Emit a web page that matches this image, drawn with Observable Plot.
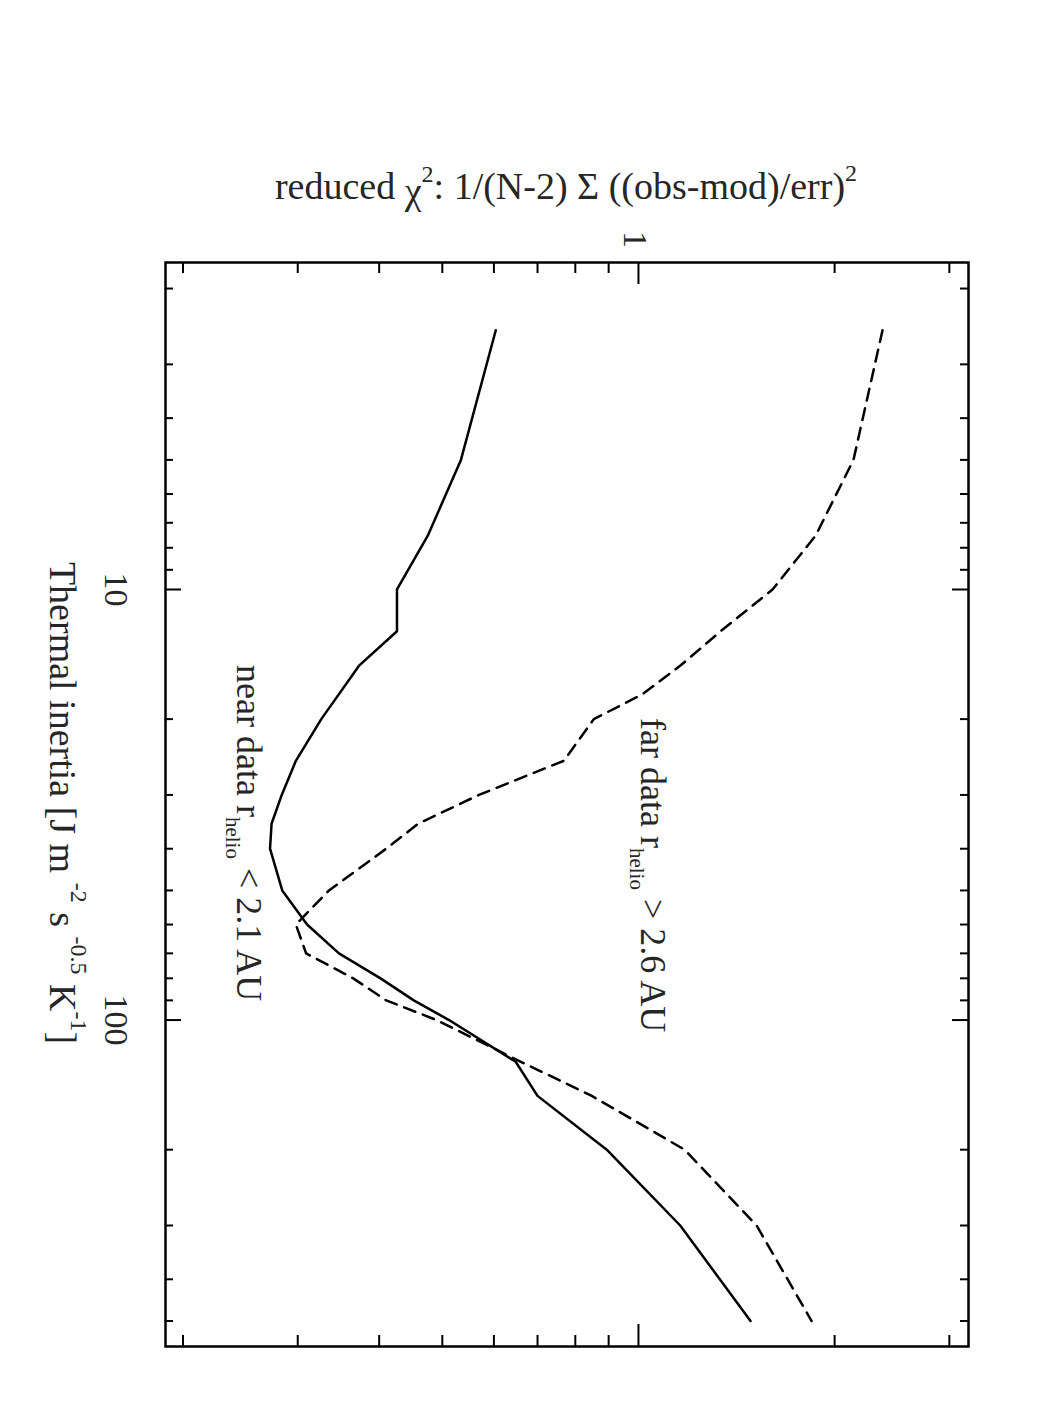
<!DOCTYPE html>
<html><head><meta charset="utf-8">
<script src="https://cdn.jsdelivr.net/npm/d3@7"></script>
<script src="https://cdn.jsdelivr.net/npm/@observablehq/plot@0.6"></script>
<style>body{margin:0;background:#fff} svg{display:block}</style>
</head><body><div id="chart"></div>
<script>
// Thermal inertia grid [J m^-2 s^-0.5 K^-1] and reduced chi^2 values
const inertiaNear = [2.5,5,7.5,10,12.5,15,20,25,30,35,40,50,60,70,80,90,100,125,150,200,300,500];
const chiNear = [0.604,0.534,0.475,0.426,0.426,0.373,0.326,0.298,0.2835,0.2735,0.272,0.284,0.310,0.347,0.402,0.452,0.512,0.648,0.700,0.894,1.159,1.486];
const inertiaFar = [2.5,5,7.5,10,12.5,15,17.5,20,25,30,35,40,50,60,70,80,90,100,125,150,200,300,500];
const chiFar = [2.369,2.138,1.870,1.606,1.337,1.161,1.015,0.854,0.768,0.569,0.459,0.410,0.335,0.298,0.309,0.365,0.410,0.490,0.660,0.848,1.177,1.518,1.844];

const chiMajor = [1];
const chiMinor = [0.2,0.3,0.4,0.5,0.6,0.7,0.8,0.9,2,3];
const inertiaMajor = [10,100];
const inertiaMinor = [2,3,4,5,6,7,8,9,20,30,40,50,60,70,80,90,200,300,400,500];

const near = inertiaNear.map((t,i)=>({ti:t, chi:chiNear[i]}));
const far = inertiaFar.map((t,i)=>({ti:t, chi:chiFar[i]}));

const W = 1050, H = 1425;
const mT = 262, mB = 79, mL = 165, mR = 82;
const PW = W - mL - mR, PH = H - mT - mB;
const font = "Liberation Serif, Times New Roman, serif";
const ink = "#000";
const textInk = "#262626";

const svg = Plot.plot({
  width: W, height: H,
  marginTop: mT, marginBottom: mB, marginLeft: mL, marginRight: mR,
  style: {background: "#fff", fontFamily: font},
  x: {type: "log", domain: [0.188, 3.21], axis: null},
  y: {type: "log", domain: [1.74, 573], reverse: true, axis: null},
  marks: [
    // chi^2 axis ticks (top and bottom, pointing inward)
    Plot.ruleX(chiMinor, {x: d=>d, insetBottom: PH - 11, stroke: ink, strokeWidth: 2}),
    Plot.ruleX(chiMajor, {x: d=>d, insetBottom: PH - 22, stroke: ink, strokeWidth: 2}),
    Plot.ruleX(chiMinor, {x: d=>d, insetTop: PH - 11, stroke: ink, strokeWidth: 2}),
    Plot.ruleX(chiMajor, {x: d=>d, insetTop: PH - 22, stroke: ink, strokeWidth: 2}),
    // thermal inertia axis ticks (left and right, pointing inward)
    Plot.ruleY(inertiaMinor, {y: d=>d, insetRight: PW - 8, stroke: ink, strokeWidth: 2}),
    Plot.ruleY(inertiaMajor, {y: d=>d, insetRight: PW - 16, stroke: ink, strokeWidth: 2}),
    Plot.ruleY(inertiaMinor, {y: d=>d, insetLeft: PW - 8, stroke: ink, strokeWidth: 2}),
    Plot.ruleY(inertiaMajor, {y: d=>d, insetLeft: PW - 16, stroke: ink, strokeWidth: 2}),
    Plot.frame({stroke: ink, strokeWidth: 2.5}),
    // curves
    Plot.line(near, {x: "chi", y: "ti", stroke: ink, strokeWidth: 2.5}),
    Plot.line(far, {x: "chi", y: "ti", stroke: ink, strokeWidth: 2.5, strokeDasharray: "12,8"}),
    // tick labels (rotated, like the page)
    Plot.text(chiMajor, {x: d=>d, text: d=>String(d), frameAnchor: "top", dy: -23, dx: -4, rotate: 90,
      textAnchor: "middle", lineAnchor: "middle", fontSize: 34, fontFamily: font, fill: textInk}),
    Plot.text(inertiaMajor, {y: d=>d, text: d=>String(d), frameAnchor: "left", dx: -50, rotate: 90,
      textAnchor: "middle", lineAnchor: "middle", fontSize: 34, fontFamily: font, fill: textInk})
  ]
});

document.getElementById("chart").appendChild(svg);

const s = d3.select(svg);
function richText(transform, anchor, size, parts) {
  const t = s.append("text")
    .attr("transform", transform)
    .attr("text-anchor", anchor)
    .attr("font-family", font)
    .attr("font-size", size)
    .attr("fill", textInk);
  for (const p of parts) {
    const ts = t.append("tspan").text(p.t);
    if (p.dy) ts.attr("dy", p.dy);
    if (p.dx) ts.attr("dx", p.dx);
    if (p.size) ts.attr("font-size", p.size);
  }
  return t;
}

// top axis title
richText("translate(566,199)", "middle", 38, [
  {t: "reduced "},
  {t: "χ", dy: 5},
  {t: "2", dy: -22, size: 24},
  {t: ": 1/(N-2) Σ ((obs-mod)/err)", dy: 17},
  {t: "2", dy: -18, size: 24}
]);

// left axis title (rotated)
richText("translate(50,803) rotate(90)", "middle", 38, [
  {t: "Thermal inertia [J m "},
  {t: "-2", dy: -21, size: 24},
  {t: " s ", dy: 21},
  {t: "-0.5", dy: -21, size: 24},
  {t: " K", dy: 21},
  {t: "-1", dy: -21, size: 24},
  {t: "]", dy: 21}
]);

// curve annotations
richText("translate(641,718) rotate(90)", "start", 36, [
  {t: "far data r"},
  {t: "helio", dy: 11, size: 21},
  {t: " > 2.6 AU", dy: -11}
]);
richText("translate(237,665) rotate(90)", "start", 36, [
  {t: "near data r"},
  {t: "helio", dy: 11, size: 21},
  {t: " < 2.1 AU", dy: -11}
]);
</script>
</body></html>
